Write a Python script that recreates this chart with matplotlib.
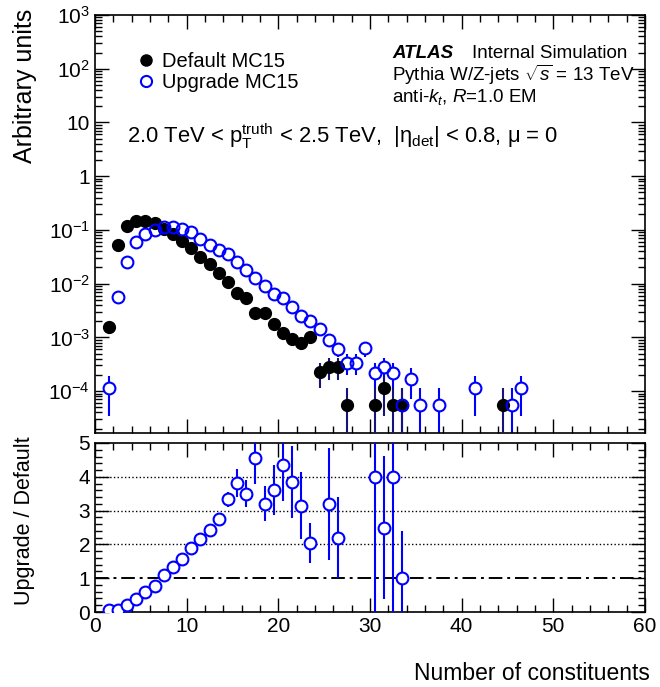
import matplotlib
matplotlib.use("Agg")
import matplotlib.pyplot as plt
import numpy as np
from matplotlib.lines import Line2D
from matplotlib.ticker import FuncFormatter, LogLocator, MultipleLocator, NullFormatter

plt.rcParams["font.family"] = ["Liberation Sans", "DejaVu Sans"]
plt.rcParams["mathtext.fontset"] = "custom"
plt.rcParams["mathtext.rm"] = "Liberation Sans"
plt.rcParams["mathtext.it"] = "Liberation Sans:italic"
plt.rcParams["mathtext.bf"] = "Liberation Sans:bold"

# --- data --------------------------------------------------------------
default_x = [1.5, 2.5, 3.5, 4.5, 5.5, 6.5, 7.5, 8.5, 9.5, 10.5, 11.5, 12.5, 13.5, 14.5, 15.5,
             16.5, 17.5, 18.5, 19.5, 20.5, 21.5, 22.5, 23.5, 24.5, 25.5, 26.5, 27.5,
             30.5, 31.5, 32.5, 33.5, 44.5]
default_y = [1.58e-3, 0.052, 0.119, 0.149, 0.145, 0.133, 0.105, 0.083, 0.063, 0.047, 0.031,
             0.023, 0.0156, 0.0106, 0.0068, 0.0053, 0.0028, 0.0029, 0.0018, 0.00122, 0.00093,
             0.00078, 0.00103, 2.24e-4, 2.85e-4, 2.85e-4, 5.6e-5,
             5.6e-5, 1.13e-4, 5.6e-5, 5.6e-5, 5.6e-5]
default_err = [3e-4, 1.7e-3, 2.6e-3, 2.9e-3, 2.8e-3, 2.7e-3, 2.4e-3, 2.1e-3, 1.9e-3, 1.6e-3,
               1.3e-3, 1.1e-3, 9e-4, 8e-4, 6e-4, 5.4e-4, 4e-4, 4e-4, 3.2e-4, 2.6e-4, 2.3e-4,
               2.1e-4, 2.4e-4, 1.1e-4, 1.25e-4, 1.25e-4, 5.6e-5,
               5.6e-5, 7.9e-5, 5.6e-5, 5.6e-5, 5.6e-5]

upgrade_x = [1.5, 2.5, 3.5, 4.5, 5.5, 6.5, 7.5, 8.5, 9.5, 10.5, 11.5, 12.5, 13.5, 14.5, 15.5,
             16.5, 17.5, 18.5, 19.5, 20.5, 21.5, 22.5, 23.5, 24.5, 25.5, 26.5, 27.5, 28.5,
             29.5, 30.5, 31.5, 32.5, 33.5, 34.5, 35.5, 37.5, 41.5, 45.5, 46.5]
upgrade_y = [1.13e-4, 5.7e-3, 0.0257, 0.0605, 0.084, 0.100, 0.112, 0.115, 0.103, 0.093, 0.068,
             0.052, 0.042, 0.036, 0.0257, 0.018, 0.0129, 0.0091, 0.0063, 0.0055, 0.0037,
             0.0025, 0.0020, 0.00143, 0.00090, 0.00061, 3.4e-4, 3.4e-4,
             6.3e-4, 2.2e-4, 2.8e-4, 2.2e-4, 5.6e-5, 1.68e-4, 5.6e-5, 5.6e-5, 1.13e-4, 5.6e-5, 1.13e-4]
upgrade_err = [7.9e-5, 5.6e-4, 1.2e-3, 1.8e-3, 2.2e-3, 2.4e-3, 2.4e-3, 2.5e-3, 2.4e-3, 2.3e-3,
               2.0e-3, 1.7e-3, 1.5e-3, 1.4e-3, 1.2e-3, 1.0e-3, 8.5e-4, 7.1e-4, 5.9e-4, 5.5e-4,
               4.6e-4, 3.7e-4, 3.3e-4, 2.8e-4, 2.2e-4, 1.8e-4, 1.4e-4, 1.4e-4,
               1.9e-4, 1.1e-4, 1.25e-4, 1.1e-4, 5.6e-5, 9.7e-5, 5.6e-5, 5.6e-5, 7.9e-5, 5.6e-5, 7.9e-5]

ratio_x = [1.5, 2.5, 3.5, 4.5, 5.5, 6.5, 7.5, 8.5, 9.5, 10.5, 11.5, 12.5, 13.5, 14.5, 15.5,
           16.5, 17.5, 18.5, 19.5, 20.5, 21.5, 22.5, 23.5, 25.5, 26.5, 30.5, 31.5, 32.5, 33.5]
ratio_y = [0.05, 0.07, 0.2, 0.39, 0.58, 0.76, 1.08, 1.33, 1.57, 1.9, 2.17, 2.42, 2.74, 3.33,
           3.81, 3.5, 4.55, 3.21, 3.61, 4.34, 3.85, 3.15, 2.05, 3.2, 2.2, 4.0, 2.5, 4.0, 1.0]
ratio_err = [0.04, 0.01, 0.01, 0.02, 0.03, 0.04, 0.05, 0.07, 0.08, 0.1, 0.11, 0.13, 0.15, 0.22,
             0.42, 0.4, 0.75, 0.52, 0.74, 1.06, 1.07, 0.99, 0.59, 1.65, 1.2, 5.0, 2.13, 5.0, 1.41]

BLUE = "#0000ff"
ERR_DARK = "#14147a"
W, H = 660, 687
MS = 8.5


def fx(px):
    return px / W


def fy(py):
    return 1 - py / H


def style_axis(ax):
    ax.tick_params(which="both", direction="in", top=True, right=True, labelsize=15, width=1)
    ax.tick_params(which="major", length=10)
    ax.tick_params(which="minor", length=5)
    for spine in ax.spines.values():
        spine.set_linewidth(1.2)


def log_label(v, _pos):
    e = int(round(np.log10(v)))
    if e == 0:
        return "1"
    if e == 1:
        return "10"
    return f"$10^{{{e}}}$"


fig = plt.figure(figsize=(6.6, 6.87), dpi=100)
ax = fig.add_axes([fx(95), fy(433), fx(645) - fx(95), fy(15) - fy(433)])
rax = fig.add_axes([fx(95), fy(612), fx(645) - fx(95), fy(443) - fy(612)])

# upper panel: blue bars, white discs to mask them, black points, then blue rings on top
ax.errorbar(upgrade_x, upgrade_y, yerr=upgrade_err, fmt="none", ecolor=BLUE,
            elinewidth=1.5, capsize=0, zorder=2)
ax.plot(upgrade_x, upgrade_y, "o", color="white", markersize=MS - 1, zorder=2.5)
ax.errorbar(default_x, default_y, yerr=default_err, fmt="o", color="black", ecolor=ERR_DARK,
            markersize=MS, elinewidth=1.5, capsize=0, zorder=3)
ax.plot(upgrade_x, upgrade_y, "o", mfc="none", mec=BLUE, mew=1.5, markersize=MS, zorder=4)
ax.set_yscale("log")
ax.set_xlim(0, 60)
ax.set_ylim(1.66e-5, 1e3)
ax.yaxis.set_major_locator(LogLocator(base=10, numticks=20))
ax.yaxis.set_minor_locator(LogLocator(base=10, subs=np.arange(2, 10), numticks=20))
ax.yaxis.set_major_formatter(FuncFormatter(log_label))
ax.yaxis.set_minor_formatter(NullFormatter())
ax.xaxis.set_major_locator(MultipleLocator(10))
ax.xaxis.set_minor_locator(MultipleLocator(2))
style_axis(ax)
ax.tick_params(axis="x", labelbottom=False)

handles = [
    Line2D([], [], marker="o", ls="none", color="black", markersize=8),
    Line2D([], [], marker="o", ls="none", mfc="none", mec=BLUE, mew=1.5, markersize=8),
]
ax.legend(handles, ["Default MC15", "Upgrade MC15"], loc="upper left",
          bbox_to_anchor=(fx(124), fy(42)), bbox_transform=fig.transFigure,
          frameon=False, fontsize=14.5, handletextpad=0.2, labelspacing=0.12,
          handlelength=1.2, borderpad=0)

fig.text(fx(392), fy(53), "ATLAS", fontsize=13.5, fontweight="bold", style="italic", va="center")
fig.text(fx(472), fy(53), "Internal Simulation", fontsize=13.5, va="center")
fig.text(fx(392), fy(75), r"Pythia W/Z-jets $\sqrt{s}$ = 13 TeV", fontsize=13.5, va="center")
fig.text(fx(392), fy(97), r"anti-$k_{t}$, $R$=1.0 EM", fontsize=13.5, va="center")
fig.text(fx(127), fy(136),
         r"2.0 TeV < $\mathrm{p}_{\mathrm{T}}^{\mathrm{truth}}$ < 2.5 TeV,  "
         r"$|\mathrm{η}_{\mathrm{det}}|$ < 0.8, μ = 0",
         fontsize=15.8, va="center")

# ratio panel
for level in [2, 3, 4]:
    rax.axhline(level, color="black", ls=":", lw=1.0, zorder=1)
rax.axhline(1, color="black", ls=(0, (7, 2.5, 1.5, 2.5)), lw=1.4, zorder=1)
rax.errorbar(ratio_x, ratio_y, yerr=ratio_err, fmt="o", mfc="white", mec=BLUE, mew=1.5,
             ecolor=BLUE, markersize=MS, elinewidth=1.5, capsize=0, zorder=3)
rax.set_xlim(0, 60)
rax.set_ylim(0, 5)
rax.xaxis.set_major_locator(MultipleLocator(10))
rax.xaxis.set_minor_locator(MultipleLocator(2))
rax.yaxis.set_major_locator(MultipleLocator(1))
rax.yaxis.set_minor_locator(MultipleLocator(0.2))
style_axis(rax)

fig.text(fx(25), fy(9), "Arbitrary units", rotation=90, fontsize=18, ha="center", va="top")
fig.text(fx(25), fy(521), "Upgrade / Default", rotation=90, fontsize=15.5, ha="center", va="center")
fig.text(fx(650), fy(673), "Number of constituents", fontsize=16.5, ha="right", va="center")

fig.savefig("out.png", dpi=100)
